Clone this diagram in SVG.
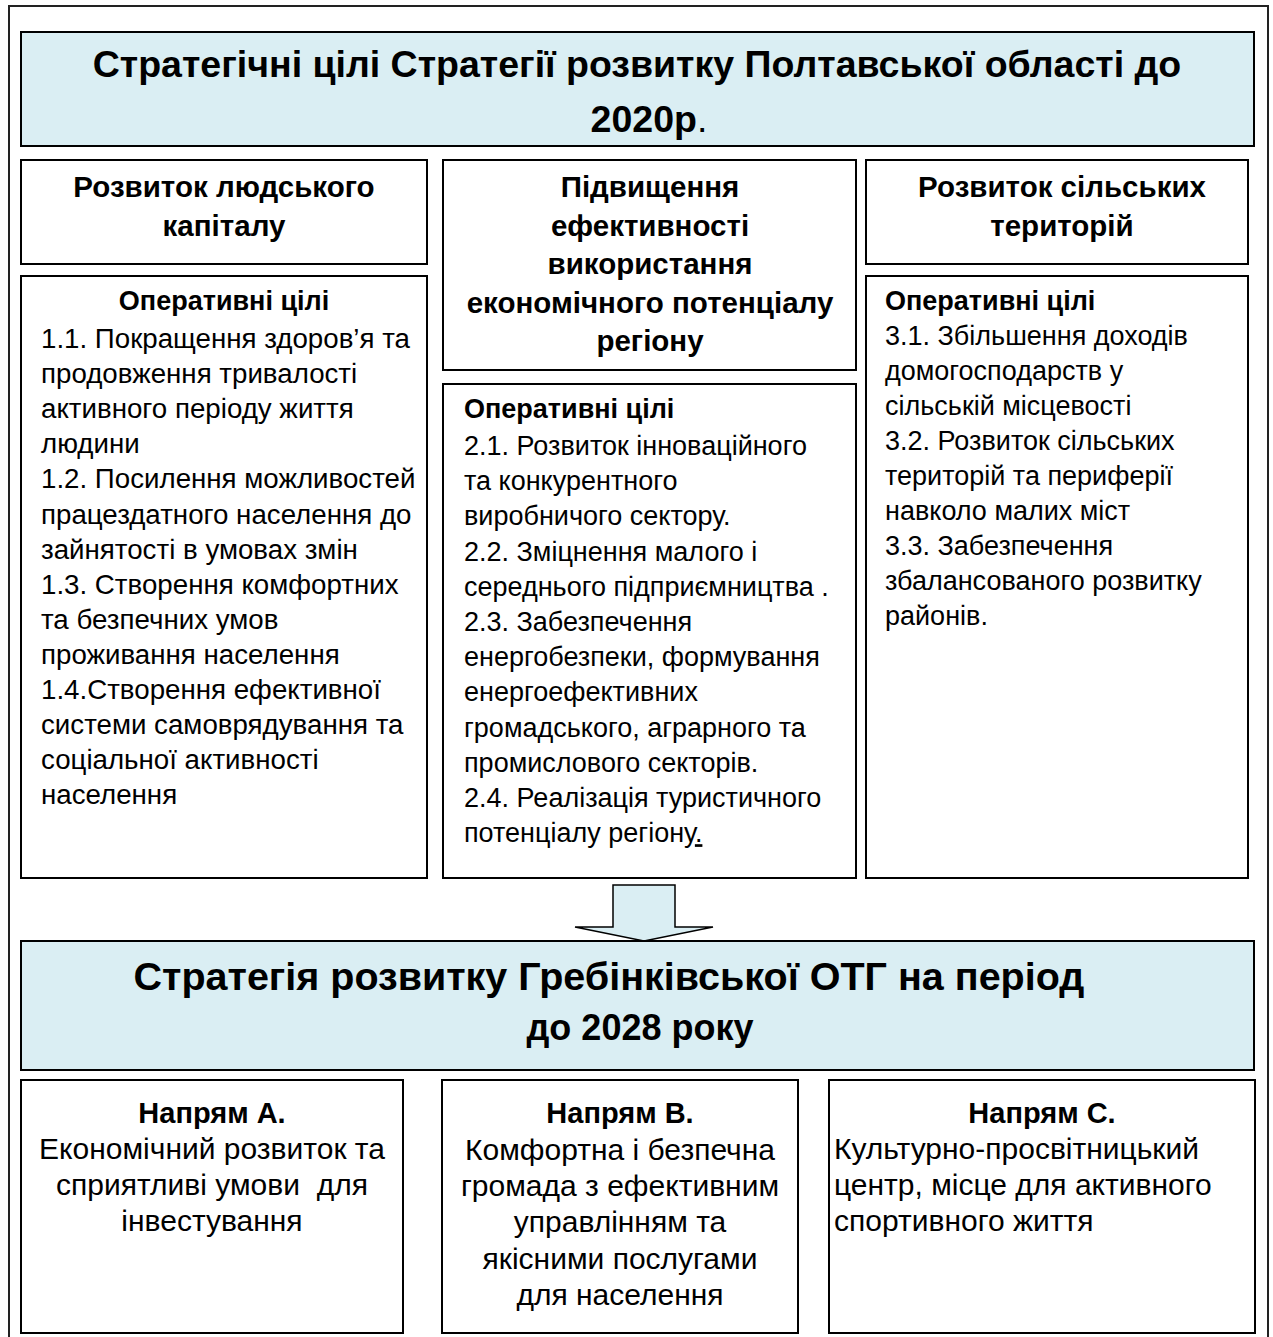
<svg xmlns="http://www.w3.org/2000/svg" width="1273" height="1337" viewBox="0 0 1273 1337">
<style>
.box{fill:#ffffff;stroke:#000000;stroke-width:2}
.hdr{fill:#DAEEF3;stroke:#000000;stroke-width:2}
text{font-family:"Liberation Sans",Arial,sans-serif;fill:#000000}
.h{font-size:37.5px;font-weight:bold;text-anchor:middle}
.t{font-size:29.5px;font-weight:bold;text-anchor:middle}
.ob{font-size:27px;font-weight:bold}
.b{font-size:27px}
.bl{font-size:27.7px}
.d{font-size:30px;text-anchor:middle}
.dl{font-size:30px}
.dt{font-size:29px;font-weight:bold;text-anchor:middle}
.c{text-anchor:middle}
</style>
<rect x="0" y="0" width="1273" height="1337" fill="#ffffff"/>
<rect x="9" y="6" width="1259" height="1345" fill="none" stroke="#222222" stroke-width="2"/>

<g id="header1">
<rect class="hdr" x="21" y="32" width="1233" height="114"/>
<text class="h" x="637" y="77">Стратегічні цілі Стратегії розвитку Полтавської області до</text>
<text class="h" x="649" y="132">2020р<tspan font-weight="normal">.</tspan></text>
</g>

<g id="goal1">
<rect class="box" x="21" y="160" width="406" height="104"/>
<text class="t" x="224" y="197">Розвиток людського</text>
<text class="t" x="224" y="235.5">капіталу</text>
</g>

<g id="goal2">
<rect class="box" x="443" y="160" width="413" height="210"/>
<text class="t" x="650" y="197">Підвищення</text>
<text class="t" x="650" y="235.5">ефективності</text>
<text class="t" x="650" y="274">використання</text>
<text class="t" x="650" y="312.5">економічного потенціалу</text>
<text class="t" x="650" y="351">регіону</text>
</g>

<g id="goal3">
<rect class="box" x="866" y="160" width="382" height="104"/>
<text class="t" x="1062" y="197">Розвиток сільських</text>
<text class="t" x="1062" y="235.5">територій</text>
</g>

<g id="ops1">
<rect class="box" x="21" y="276" width="406" height="602"/>
<text class="ob c" x="224" y="310">Оперативні цілі</text>
<text class="bl" x="41" y="348">1.1. Покращення здоров’я та</text>
<text class="bl" x="41" y="383.1">продовження тривалості</text>
<text class="bl" x="41" y="418.2">активного періоду життя</text>
<text class="bl" x="41" y="453.3">людини</text>
<text class="bl" x="41" y="488.4">1.2. Посилення можливостей</text>
<text class="bl" x="41" y="523.5">працездатного населення до</text>
<text class="bl" x="41" y="558.6">зайнятості в умовах змін</text>
<text class="bl" x="41" y="593.7">1.3. Створення комфортних</text>
<text class="bl" x="41" y="628.8">та безпечних умов</text>
<text class="bl" x="41" y="663.9">проживання населення</text>
<text class="bl" x="41" y="699">1.4.Створення ефективної</text>
<text class="bl" x="41" y="734.1">системи самоврядування та</text>
<text class="bl" x="41" y="769.2">соціальної активності</text>
<text class="bl" x="41" y="804.3">населення</text>
</g>

<g id="ops2">
<rect class="box" x="443" y="384" width="413" height="494"/>
<text class="ob" x="464" y="418">Оперативні цілі</text>
<text class="b" x="464" y="455">2.1. Розвиток інноваційного</text>
<text class="b" x="464" y="490.2">та конкурентного</text>
<text class="b" x="464" y="525.4">виробничого сектору.</text>
<text class="b" x="464" y="560.6">2.2. Зміцнення малого і</text>
<text class="b" x="464" y="595.8">середнього підприємництва .</text>
<text class="b" x="464" y="631">2.3. Забезпечення</text>
<text class="b" x="464" y="666.2">енергобезпеки, формування</text>
<text class="b" x="464" y="701.4">енергоефективних</text>
<text class="b" x="464" y="736.6">громадського, аграрного та</text>
<text class="b" x="464" y="771.8">промислового секторів.</text>
<text class="b" x="464" y="807">2.4. Реалізація туристичного</text>
<text class="b" x="464" y="842.2">потенціалу регіону<tspan text-decoration="underline">.</tspan></text>
</g>

<g id="ops3">
<rect class="box" x="866" y="276" width="382" height="602"/>
<text class="ob" x="885" y="310">Оперативні цілі</text>
<text class="b" x="885" y="345">3.1. Збільшення доходів</text>
<text class="b" x="885" y="380">домогосподарств у</text>
<text class="b" x="885" y="415">сільській місцевості</text>
<text class="b" x="885" y="450">3.2. Розвиток сільських</text>
<text class="b" x="885" y="485">територій та периферії</text>
<text class="b" x="885" y="520">навколо малих міст</text>
<text class="b" x="885" y="555">3.3. Забезпечення</text>
<text class="b" x="885" y="590">збалансованого розвитку</text>
<text class="b" x="885" y="625">районів.</text>
</g>

<g id="connectors">
<polygon points="613,885 675,885 675,927 713,927 644,941 575,927 613,927" fill="#DAEEF3" stroke="#000000" stroke-width="1.5" stroke-linejoin="miter"/>
</g>

<g id="header2">
<rect class="hdr" x="21" y="941" width="1233" height="129"/>
<text class="h" x="609" y="990" style="font-size:39.5px">Стратегія розвитку Гребінківської ОТГ на період</text>
<text class="h" x="640" y="1040" style="font-size:36px">до 2028 року</text>
</g>

<g id="dirA">
<rect class="box" x="21" y="1080" width="382" height="253"/>
<text class="dt" x="212" y="1123">Напрям А.</text>
<text class="d" x="212" y="1159">Економічний розвиток та</text>
<text class="d" x="212" y="1195" xml:space="preserve">сприятливі умови  для</text>
<text class="d" x="212" y="1231">інвестування</text>
</g>

<g id="dirB">
<rect class="box" x="442" y="1080" width="356" height="253"/>
<text class="dt" x="620" y="1123">Напрям В.</text>
<text class="d" x="620" y="1160">Комфортна і безпечна</text>
<text class="d" x="620" y="1196">громада з ефективним</text>
<text class="d" x="620" y="1232">управлінням та</text>
<text class="d" x="620" y="1268.5">якісними послугами</text>
<text class="d" x="620" y="1305">для населення</text>
</g>

<g id="dirC">
<rect class="box" x="829" y="1080" width="426" height="253"/>
<text class="dt" x="1042" y="1123">Напрям С.</text>
<text class="dl" x="834" y="1159">Культурно-просвітницький</text>
<text class="dl" x="834" y="1195">центр, місце для активного</text>
<text class="dl" x="834" y="1231">спортивного життя</text>
</g>
</svg>
